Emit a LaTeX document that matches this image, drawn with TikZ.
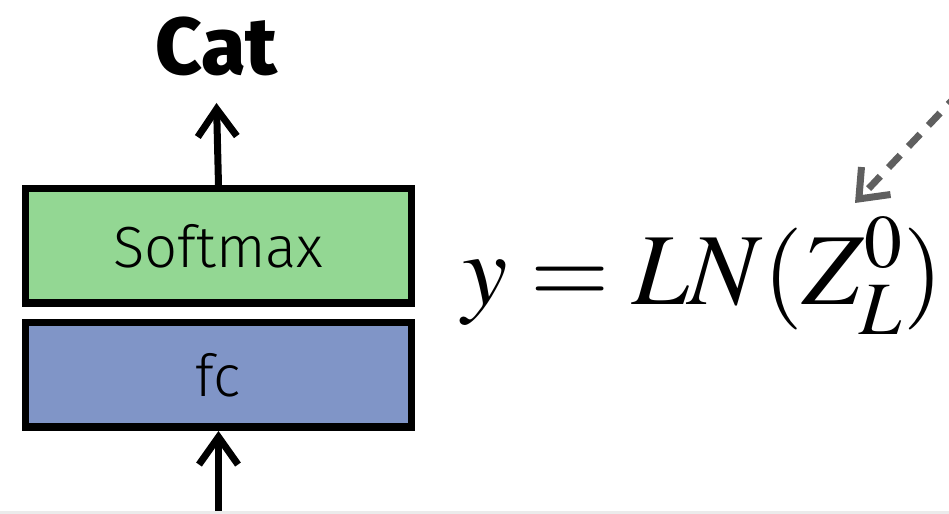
\documentclass[tikz,border=0pt]{standalone}
\usepackage{mathptmx}
\usepackage[no-math]{fontspec}
\setsansfont{Fira Sans Light}[BoldFont=Fira Sans ExtraBold]
\usepackage{xcolor}
\usetikzlibrary{arrows.meta,positioning}
\definecolor{sgreen}{HTML}{93D793}
\definecolor{fblue}{HTML}{8095C7}
\definecolor{dgray}{HTML}{5F5F5F}
\definecolor{lgray}{HTML}{EBEBEB}

\begin{document}
\begin{tikzpicture}[
    block/.style={rectangle, draw=black, line width=0.15cm, minimum width=7.71cm, inner sep=0pt, font=\sffamily\fontsize{33}{36}\selectfont},
    flow/.style={line width=0.14cm, -{Straight Barb[length=0.55cm, width=0.78cm]}},
    hint/.style={draw=dgray, line width=0.14cm, dash pattern=on 0.34cm off 0.24cm, -{Straight Barb[length=0.5cm, width=0.8cm]}},
]
    \useasboundingbox (0,0) rectangle (18.98,10.28);
    \fill[lgray] (0,0) rectangle (18.98,0.06);
    \node[block, fill=sgreen, minimum height=2.29cm] (softmax) at (4.37,5.36) {Softmax};
    \node[block, fill=fblue, minimum height=2.09cm] (fc) at (4.37,2.78) {fc};
    \node[anchor=base, inner sep=0pt, font=\sffamily\bfseries\fontsize{46}{50}\selectfont] (cat) at (4.33,8.78) {Cat};
    \node[anchor=base west, inner sep=0pt, font=\fontsize{58}{62}\selectfont] (eq) at (9.24,4.18) {$y = LN(Z_L^0)$};
    \coordinate (in) at (4.37,0.06);
    \coordinate (src) at (19.2,8.44);
    \coordinate (tip) at (17.1,6.22);
    \draw[flow] (softmax.north) -- ([yshift=-0.56cm]cat.base);
    \draw[flow] (in) -- (fc.south);
    \draw[hint] (src) -- (tip);
\end{tikzpicture}
\end{document}
